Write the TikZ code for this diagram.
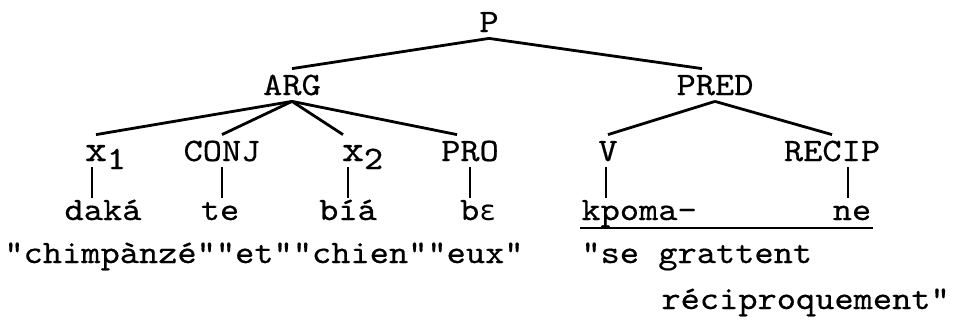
\documentclass[tikz,border=0pt]{standalone}
\usepackage{fontspec}
\newfontfamily\typewriter{lmmono10-regular.otf}[FakeStretch=1.12, FakeBold=0.5]
\newfontfamily\ipafont{DejaVu Sans Mono}[Scale=0.85]
\newcommand{\bigx}{{\fontsize{37bp}{37bp}\selectfont x}}
\tikzset{
    tag/.style = {anchor = base, inner xsep = 0pt, inner ysep = 5bp, text height = 20bp, text depth = 0pt},
    word/.style = {anchor = base, inner xsep = 0pt, inner ysep = 3bp, text height = 18bp, text depth = 0pt},
    gloss/.style = {anchor = base west, inner sep = 0pt}
}
\begin{document}
\begin{tikzpicture}[x = 1bp, y = -1bp, line width = 2.8bp, font = \typewriter\fontsize{32.7bp}{40bp}\selectfont]
        \useasboundingbox (0,0) rectangle (955,324);
        \node[tag] (P) at (489,32) {P};
        \node[tag] (ARG) at (292,95) {ARG};
        \node[tag] (PRED) at (715,95) {PRED};
        \node[tag] (x1) at (96,161) {\bigx\rlap{\raisebox{-8bp}{1}}};
        \node[tag] (CONJ) at (222,161) {CONJ};
        \node[tag] (x2) at (353,161) {\bigx\rlap{\raisebox{-8bp}{2}}};
        \node[tag] (PRO) at (470,161) {PRO};
        \node[tag] (V) at (608,161) {V};
        \node[tag] (RECIP) at (832,161) {RECIP};
        \node[word] (daka) at (103,220) {daká};
        \node[word] (te) at (220,220) {te};
        \node[word] (bia) at (348,220) {bíá};
        \node[word] (be) at (478,220) {b{\ipafont ɛ}};
        \node[word, anchor = base west] (kpoma) at (580,220) {kpoma-};
        \node[word] (ne) at (852,220) {ne};
        \node[gloss] (glossArg) at (3,263) {"chimpànzé""et""chien""eux"};
        \node[gloss] (glossPred) at (580,263) {"se grattent};
        \node[gloss] (glossRecip) at (660,309) {réciproquement"};
        \draw (P.south) -- (ARG.north);
        \draw (P.south) -- ([xshift = -13bp]PRED.north);
        \draw (ARG.south) -- (x1.north);
        \draw (ARG.south) -- (CONJ.north);
        \draw (ARG.south) -- ([xshift = -10bp]x2.north);
        \draw (ARG.south) -- ([xshift = -13bp]PRO.north);
        \draw (PRED.south) -- (V.north);
        \draw (PRED.south) -- (RECIP.north);
        \begin{scope}[line width = 2.6bp]
            \draw ([xshift = -4bp]x1.south) -- ([xshift = -4bp]x1.south |- daka.north);
            \draw (CONJ.south) -- (CONJ.south |- te.north);
            \draw (bia.north |- x2.south) -- (bia.north);
            \draw (PRO.south) -- (PRO.south |- be.north);
            \draw ([xshift = -2bp]V.south) -- ([xshift = -2bp]V.south |- kpoma.north);
            \draw ([xshift = -4bp]ne.north |- RECIP.south) -- ([xshift = -4bp]ne.north);
        \end{scope}
        \draw ([yshift = -8bp]kpoma.base west) -- ([yshift = -8bp]ne.base east);
    \end{tikzpicture}
\end{document}
